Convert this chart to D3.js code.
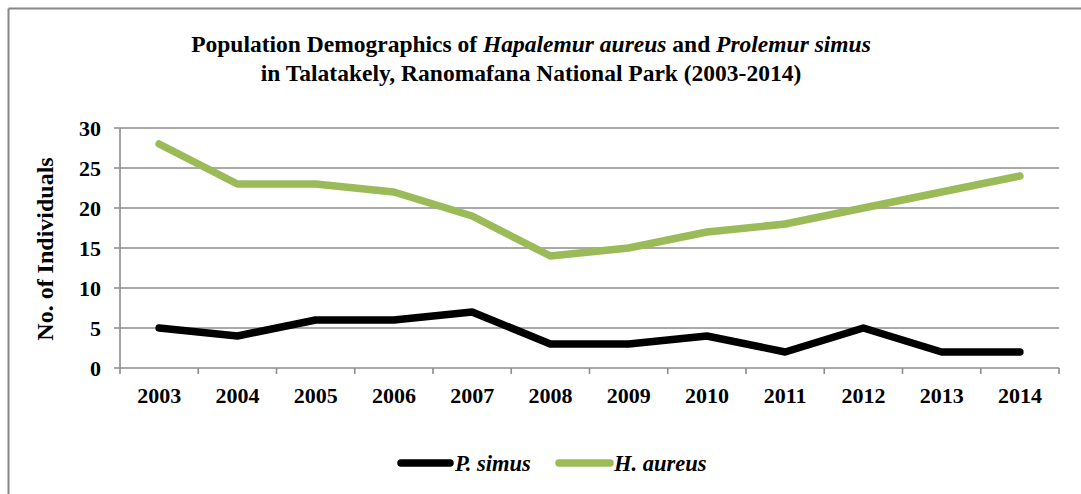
<!DOCTYPE html>
<html>
<head>
<meta charset="utf-8">
<script src="https://cdn.jsdelivr.net/npm/d3@7"></script>
<style>
  html, body { margin: 0; padding: 0; background: #fff; }
  svg { display: block; }
  text { font-family: "Liberation Serif", "Times New Roman", serif; font-weight: bold; fill: #000; }
</style>
</head>
<body>
<div id="chart"></div>
<script>
const years = ["2003", "2004", "2005", "2006", "2007", "2008", "2009", "2010", "2011", "2012", "2013", "2014"];
const pSimus = [5, 4, 6, 6, 7, 3, 3, 4, 2, 5, 2, 2];
const hAureus = [28, 23, 23, 22, 19, 14, 15, 17, 18, 20, 22, 24];
const yTicks = [0, 5, 10, 15, 20, 25, 30];

const series = [
  { name: "P. simus", values: pSimus, color: "#000000" },
  { name: "H. aureus", values: hAureus, color: "#9BBB59" }
];

const width = 1081;
const height = 494;
const plot = { left: 120, right: 1059, top: 128, bottom: 368 };

const svg = d3.select("#chart").append("svg")
  .attr("width", width)
  .attr("height", height);

svg.append("rect").attr("width", width).attr("height", height).attr("fill", "#fff");

// outer chart border (only top and left visible in the crop)
svg.append("line").attr("x1", 8.5).attr("x2", width).attr("y1", 8.5).attr("y2", 8.5)
  .attr("stroke", "#878787").attr("stroke-width", 2);
svg.append("line").attr("x1", 8.5).attr("x2", 8.5).attr("y1", 8.5).attr("y2", height)
  .attr("stroke", "#878787").attr("stroke-width", 2);

const x = d3.scaleBand().domain(years).range([plot.left, plot.right]);
const y = d3.scaleLinear().domain([0, 30]).range([plot.bottom, plot.top]);

// gridlines
svg.append("g")
  .selectAll("line")
  .data(yTicks)
  .join("line")
  .attr("x1", plot.left - 6)
  .attr("x2", plot.right)
  .attr("y1", (d) => y(d))
  .attr("y2", (d) => y(d))
  .attr("stroke", "#8c8c8c")
  .attr("stroke-width", 1.6);

// y axis line
svg.append("line")
  .attr("x1", plot.left).attr("x2", plot.left)
  .attr("y1", plot.top).attr("y2", plot.bottom)
  .attr("stroke", "#8c8c8c").attr("stroke-width", 1.6);

// x tick marks at category boundaries
const boundaries = years.map((d) => x(d)).concat([plot.right]);
svg.append("g")
  .selectAll("line")
  .data(boundaries)
  .join("line")
  .attr("x1", (d) => d).attr("x2", (d) => d)
  .attr("y1", plot.bottom).attr("y2", plot.bottom + 6)
  .attr("stroke", "#8c8c8c").attr("stroke-width", 1.6);

// y tick labels
svg.append("g")
  .selectAll("text")
  .data(yTicks)
  .join("text")
  .attr("x", 101)
  .attr("y", (d) => y(d))
  .attr("dy", "0.35em")
  .attr("text-anchor", "end")
  .style("font-size", "22px")
  .text((d) => d);

// x tick labels
svg.append("g")
  .selectAll("text")
  .data(years)
  .join("text")
  .attr("x", (d) => x(d) + x.bandwidth() / 2)
  .attr("y", 395)
  .attr("dy", "0.35em")
  .attr("text-anchor", "middle")
  .style("font-size", "22px")
  .text((d) => d);

// y axis title
svg.append("text")
  .attr("transform", "translate(45,249) rotate(-90)")
  .attr("text-anchor", "middle")
  .attr("dy", "0.35em")
  .style("font-size", "24px")
  .text("No. of Individuals");

// title
const title = svg.append("text")
  .attr("text-anchor", "middle")
  .style("font-size", "23.5px");
const t1 = title.append("tspan").attr("x", 531).attr("y", 52);
t1.append("tspan").text("Population Demographics of ");
t1.append("tspan").style("font-style", "italic").text("Hapalemur aureus");
t1.append("tspan").text(" and ");
t1.append("tspan").style("font-style", "italic").text("Prolemur simus");
title.append("tspan").attr("x", 531).attr("y", 81)
  .text("in Talatakely, Ranomafana National Park (2003-2014)");

// lines
const line = d3.line()
  .x((d, i) => x(years[i]) + x.bandwidth() / 2)
  .y((d) => y(d));

svg.append("g")
  .selectAll("path")
  .data(series)
  .join("path")
  .attr("d", (d) => line(d.values))
  .attr("fill", "none")
  .attr("stroke", (d) => d.color)
  .attr("stroke-width", 7.5)
  .attr("stroke-linecap", "round")
  .attr("stroke-linejoin", "round");

// legend
const legendItems = [
  { s: series[0], x0: 401, x1: 450, tx: 455 },
  { s: series[1], x0: 559, x1: 610, tx: 614 }
];
const lg = svg.append("g");
legendItems.forEach((it) => {
  lg.append("line")
    .attr("x1", it.x0).attr("x2", it.x1)
    .attr("y1", 463).attr("y2", 463)
    .attr("stroke", it.s.color)
    .attr("stroke-width", 7.5)
    .attr("stroke-linecap", "round");
  lg.append("text")
    .attr("x", it.tx)
    .attr("y", 463)
    .attr("dy", "0.35em")
    .style("font-size", "22.5px")
    .style("font-style", "italic")
    .text(it.s.name);
});
</script>
</body>
</html>
